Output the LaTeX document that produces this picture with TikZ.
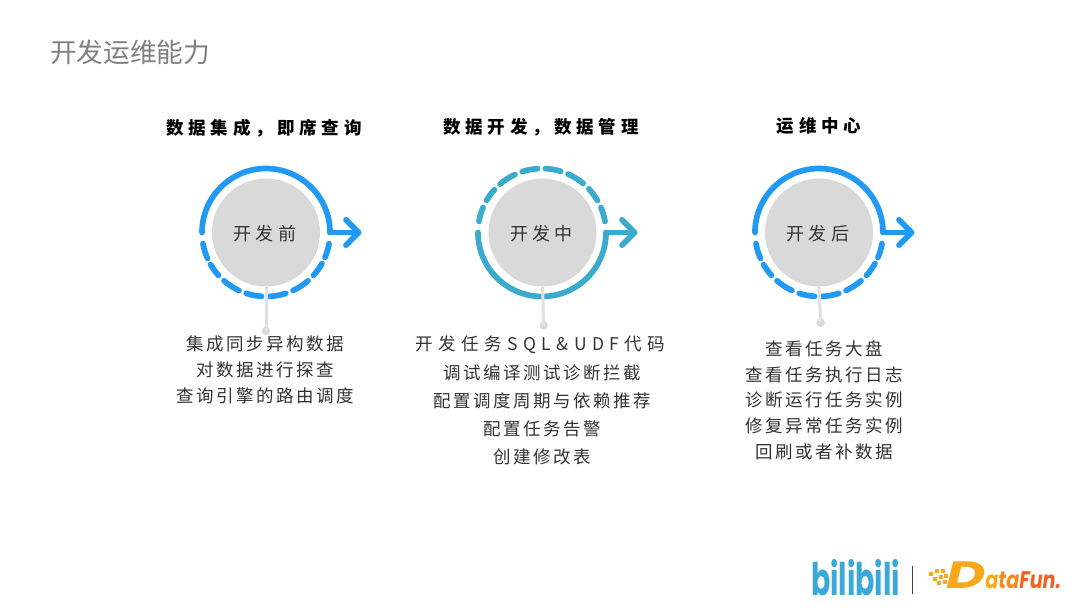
\documentclass[tikz,border=0pt]{standalone}
\usepackage{fontspec}
\setmainfont{Noto Sans CJK SC}
\newfontfamily\cjklist[LetterSpace=14.5]{Noto Sans CJK SC}
\newfontfamily\cjkwide[LetterSpace=31]{Noto Sans CJK SC}
\newfontfamily\cjkhead[LetterSpace=27]{Noto Sans CJK SC}
\newfontfamily\cjkcirc[LetterSpace=24]{Noto Sans CJK SC}
\newfontfamily\logofont{Poppins}
\definecolor{ringblue}{HTML}{2299F2}
\definecolor{ringteal}{HTML}{3AABCD}
\definecolor{disc}{HTML}{D9D9D9}
\definecolor{stem}{HTML}{E0E0E0}
\definecolor{ink}{HTML}{333333}
\definecolor{bili}{HTML}{3AA9DA}
\definecolor{dfa}{HTML}{F9A81B}
\definecolor{dfb}{HTML}{F78A1D}
\definecolor{dfc}{HTML}{F4601F}
\tikzset{
  x=1pt,y=1pt,
  disc/.style={circle,fill=disc,minimum size=108pt,inner sep=0pt},
  disctxt/.style={text=ink,inner sep=0pt,font=\fontsize{18}{20}\selectfont\cjkcirc},
  tipdot/.style={circle,fill=disc,minimum size=8.5pt,inner sep=0pt},
  stemline/.style={draw=stem,line width=3pt},
  ring/.style={line width=5.7pt,line cap=round,line join=round},
  headtxt/.style={text=black,font=\fontsize{17.5}{20}\selectfont\bfseries\cjkhead},
  listline/.style={text=ink,font=\fontsize{17.5}{20}\selectfont\cjklist,inner sep=0pt},
  wideline/.style={text=ink,font=\fontsize{17.5}{20}\selectfont\cjkwide,inner sep=0pt},
  pix/.style={fill=#1,draw=none},
}
\newcommand{\solidtop}[3]{%
  \draw[ring,#3] (#1,#2)+(180:64) arc (180:0:64);}
\newcommand{\solidbot}[3]{%
  \draw[ring,#3] (#1,#2)+(180:64) arc (180:360:64);}
\newcommand{\arrowhd}[3]{%
  \draw[ring,#3] (#1+64,#2) -- (#1+92.5,#2);
  \draw[ring,#3] (#1+80,#2+12.7) -- (#1+92.5,#2) -- (#1+80,#2-12.7);}
\begin{document}
\begin{tikzpicture}
\useasboundingbox[fill=white] (0,0) rectangle (1080,608);
\node[anchor=west,inner sep=0pt,text=black!50,font=\fontsize{26.7}{28}\selectfont] (title) at (50,556) {开发运维能力};

% headings
\node[headtxt] (h1) at (264,480) {数据集成，即席查询};
\node[headtxt] (h2) at (541,481) {数据开发，数据管理};
\node[headtxt] (h3) at (819,482) {运维中心};

% unit 1
\solidtop{266}{375.5}{ringblue}
\foreach \a/\b in {190/204,210/222,229/245,252/266,273/288,295/311,318/331,337/350}{
  \draw[ring,ringblue] (266,375.5)+(\a:64) arc (\a:\b:64);}
\arrowhd{266}{375.5}{ringblue}
\node[disc] (c1) at (266,375.5) {};
\node[disctxt] at (265,374) {开发前};
\node[tipdot] (d1) at (266,277) {};
\draw[stemline] (c1.south) -- (d1.center);

% unit 2
\solidbot{542}{375.5}{ringteal}
\foreach \a/\b in {10/23,30/43,50/66,73/87,94/108,115/131,138/150,157/170}{
  \draw[ring,ringteal] (542,375.5)+(\a:64) arc (\a:\b:64);}
\arrowhd{542}{375.5}{ringteal}
\node[disc] (c2) at (542.5,375.5) {};
\node[disctxt] at (541.5,374) {开发中};
\node[tipdot] (d2) at (543.7,282.5) {};
\draw[stemline] (c2.south) -- (d2.center);

% unit 3
\solidtop{819}{375.5}{ringblue}
\foreach \a/\b in {190/204,210/222,229/245,252/266,273/288,295/311,318/331,337/350}{
  \draw[ring,ringblue] (819,375.5)+(\a:64) arc (\a:\b:64);}
\arrowhd{819}{375.5}{ringblue}
\node[disc] (c3) at (819,375.5) {};
\node[disctxt] at (818,374) {开发后};
\node[tipdot] (d3) at (820.7,285.3) {};
\draw[stemline] (c3.south) -- (d3.center);

% lists
\node[listline] (a1) at (265,264) {集成同步异构数据};
\node[listline] (a2) at (265,238) {对数据进行探查};
\node[listline] (a3) at (265,212) {查询引擎的路由调度};

\node[wideline] (b1) at (540.5,263) {开发任务SQL\&UDF代码};
\node[listline] (b2) at (542,235) {调试编译测试诊断拦截};
\node[listline] (b3) at (542,207) {配置调度周期与依赖推荐};
\node[listline] (b4) at (542,179) {配置任务告警};
\node[listline] (b5) at (542,151) {创建修改表};

\node[listline] (e1) at (824.5,259) {查看任务大盘};
\node[listline] (e2) at (824.5,233.5) {查看任务执行日志};
\node[listline] (e3) at (824.5,208) {诊断运行任务实例};
\node[listline] (e4) at (824.5,182) {修复异常任务实例};
\node[listline] (e5) at (824.5,156) {回刷或者补数据};

% logos
\node[anchor=base west,inner sep=0pt,text=bili,font=\fontsize{36}{36}\selectfont\bfseries\logofont] (lb) at (811,12) {\scalebox{0.79}[1.25]{bilibili}};
\draw[line width=1.3pt,black!75] (912.5,14) -- (912.5,42);
\foreach \px/\py/\pc in {931/34/dfa,937/37/dfa,943/36.5/dfa,935/29/dfa,941/30.5/dfa,946/32/dfa,939/25/dfa,945/26/dfa}{
  \fill[pix=\pc] (\px,\py) +(-2,-2) rectangle +(2,2);}
\node[anchor=base west,inner sep=0pt,font=\fontsize{24}{24}\selectfont\bfseries\itshape\logofont] (df) at (946,19)
  {\textcolor{dfa}{\scalebox{1.42}[1]{\fontsize{38}{38}\selectfont D}}\scalebox{0.8}[1]{\textcolor{dfa}{a}\textcolor{dfb}{t}\textcolor{dfb}{a}\textcolor{dfc}{F}\textcolor{dfc}{u}\textcolor{dfc}{n}\textcolor{dfc}{.}}};
\end{tikzpicture}
\end{document}
